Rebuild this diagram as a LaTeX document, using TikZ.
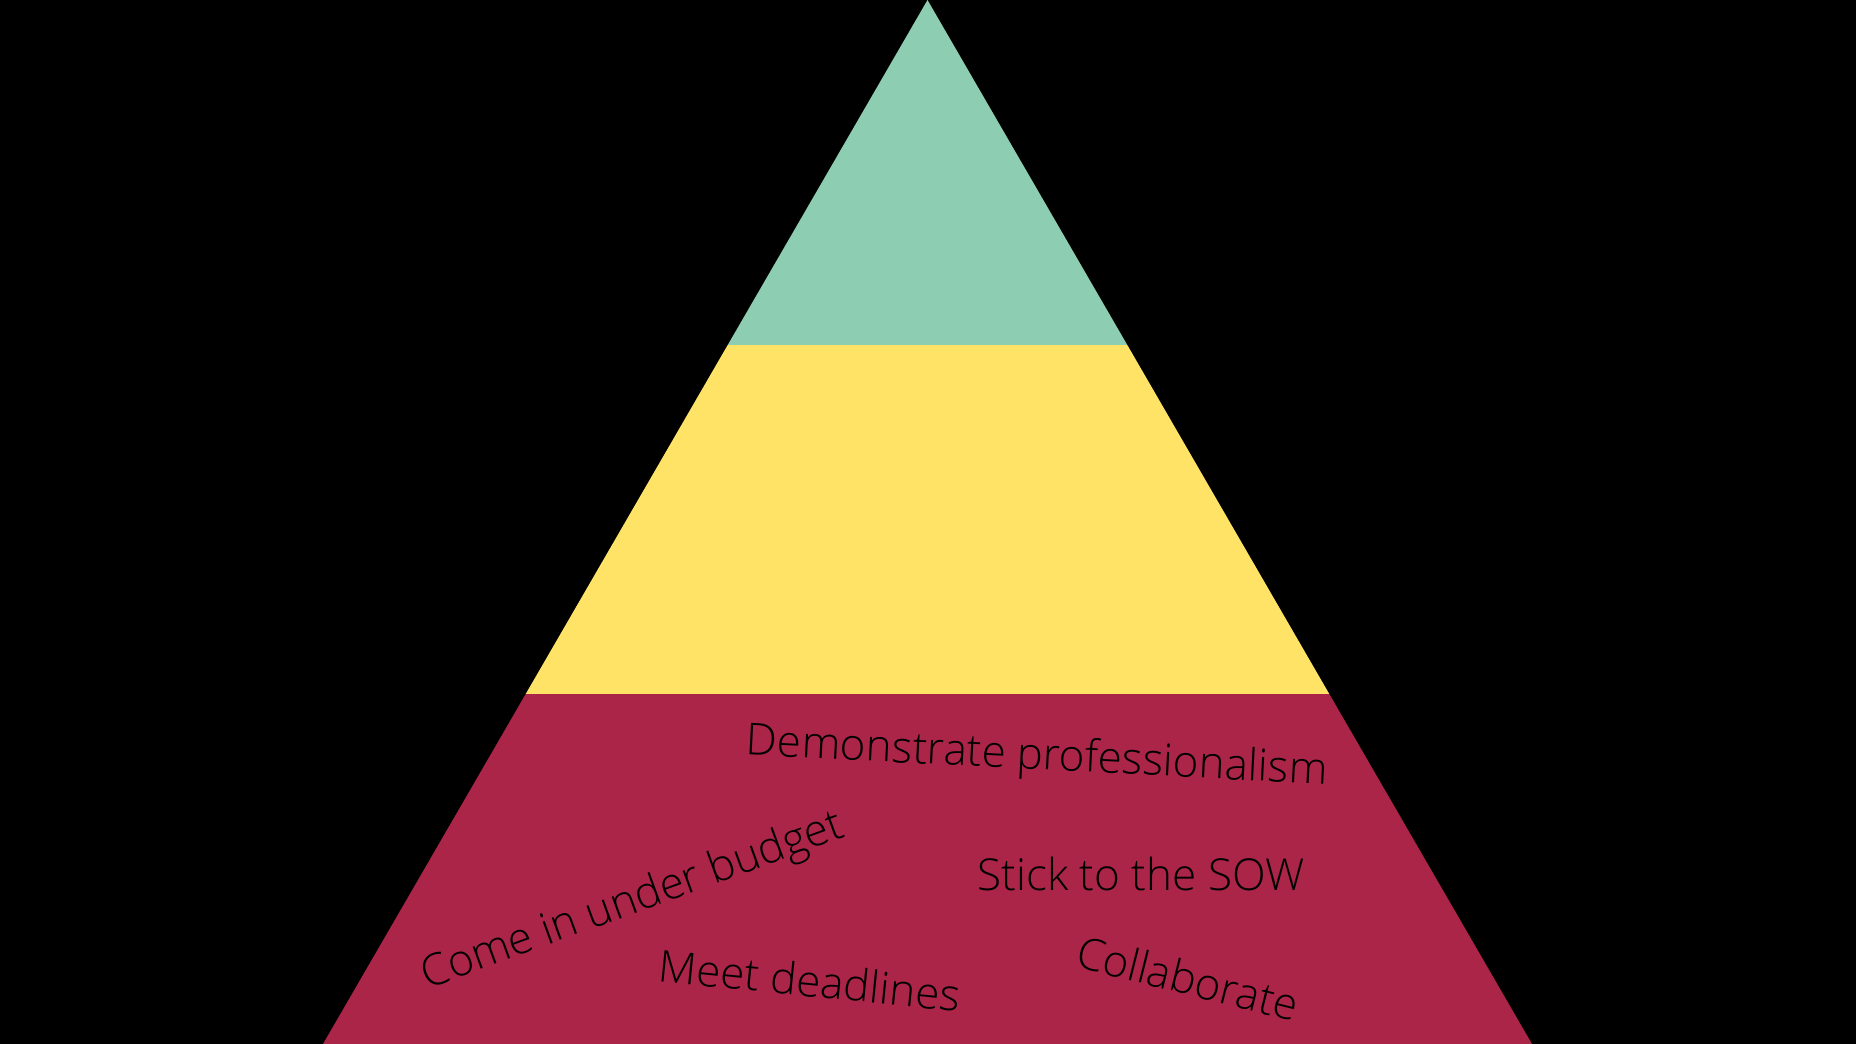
\documentclass[tikz,border=0pt]{standalone}
\usepackage{fontspec}
\setmainfont{Open Sans Light}
\definecolor{tiergreen}{RGB}{141,205,177}
\definecolor{tieryellow}{RGB}{255,227,102}
\definecolor{tierred}{RGB}{170,37,72}
\begin{document}
\begin{tikzpicture}[x=1pt,y=-1pt,
  lbl/.style={font=\fontsize{44}{52}\selectfont, text=black, inner sep=0pt, anchor=center}]
\useasboundingbox (0,0) rectangle (1856,1044);
\fill[black] (0,0) rectangle (1856,1044);
\coordinate (apex) at (927.5,0);
\coordinate (gl) at (727.7,345);
\coordinate (gr) at (1127.3,345);
\coordinate (yl) at (525.7,694);
\coordinate (yr) at (1329.3,694);
\coordinate (bl) at (323,1044);
\coordinate (br) at (1532,1044);
\fill[tiergreen] (apex) -- (gl) -- (gr) -- cycle;
\fill[tieryellow] (gl) -- (yl) -- (yr) -- (gr) -- cycle;
\fill[tierred] (yl) -- (bl) -- (br) -- (yr) -- cycle;
\node[lbl, rotate=-2.9] (demo) at (1037,758) {Demonstrate professionalism};
\node[lbl] (sow) at (1141,874) {Stick to the SOW};
\node[lbl, rotate=20] (budget) at (633,902) {Come in under budget};
\node[lbl, rotate=-5.7] (dead) at (810,980) {Meet deadlines};
\node[lbl, rotate=-14] (collab) at (1188,978) {Collaborate};
\end{tikzpicture}
\end{document}
